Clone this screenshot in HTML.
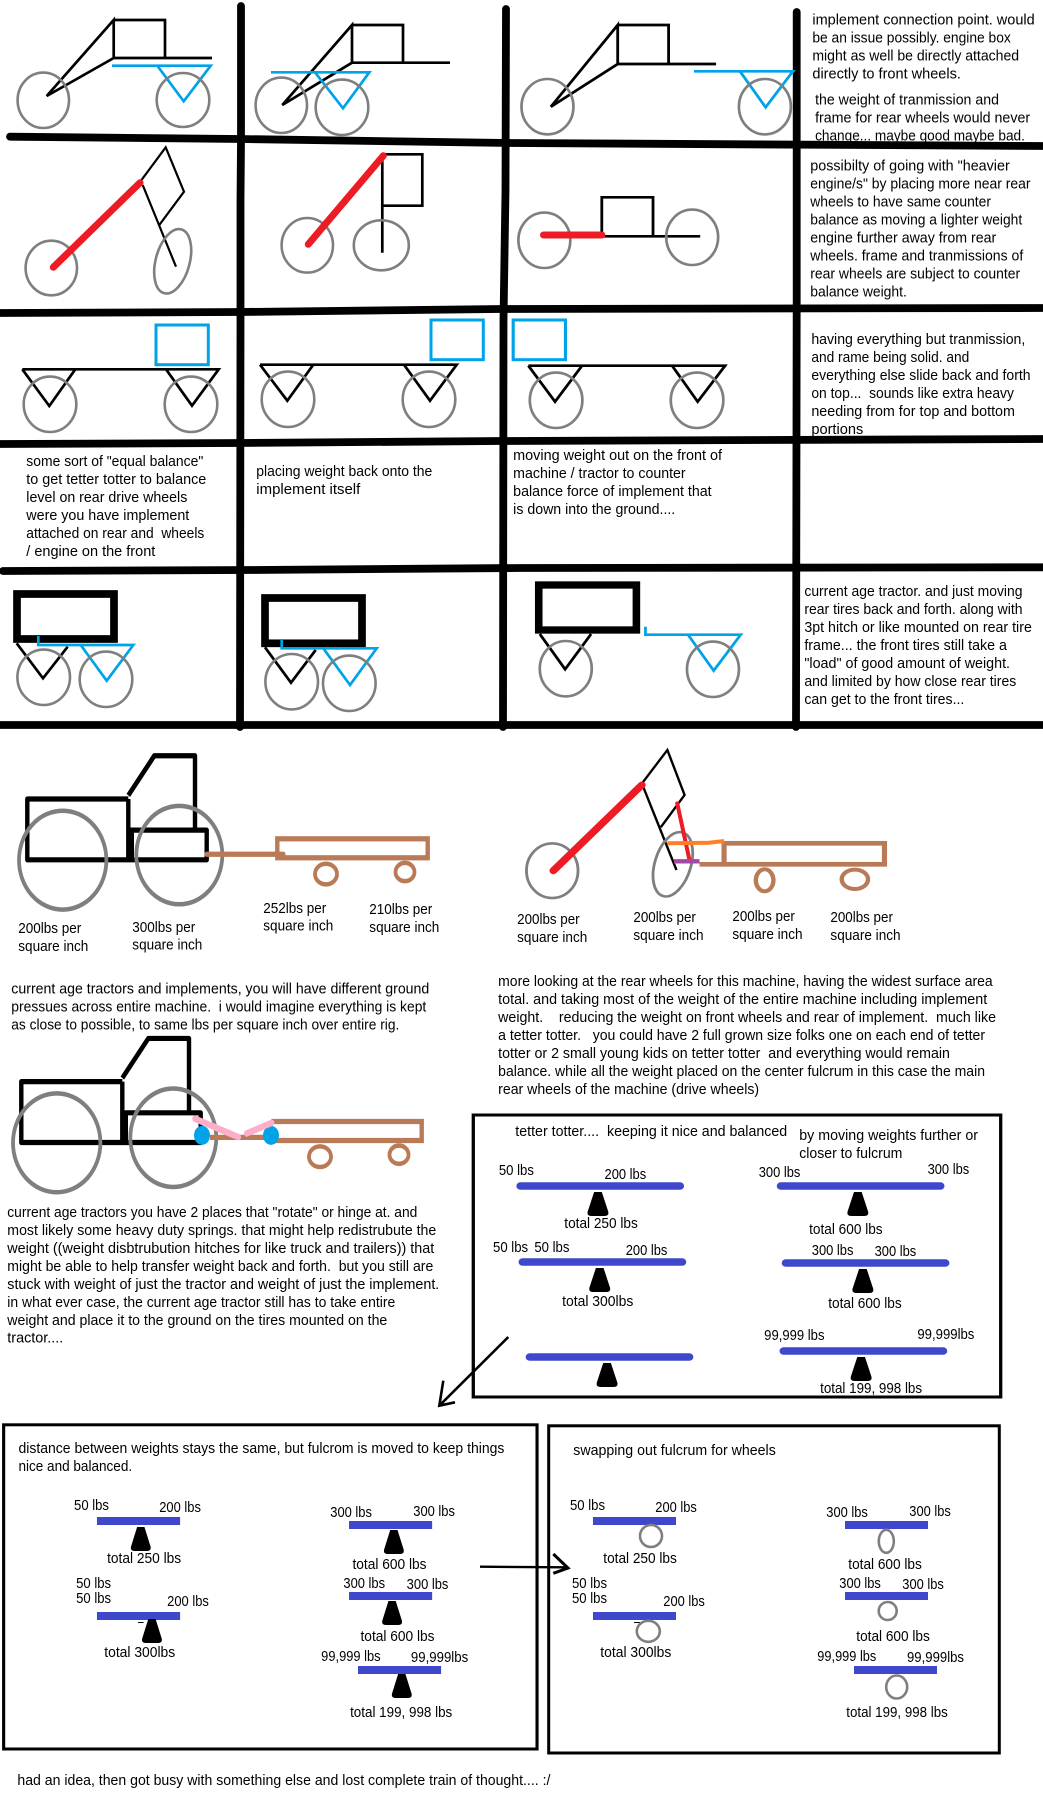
<!DOCTYPE html>
<html><head><meta charset="utf-8"><style>
html,body{margin:0;padding:0;background:#fff}
svg{display:block}
text{font-family:"Liberation Sans",sans-serif;font-size:14.5px;fill:#000;white-space:pre}
text.w{font-size:12.2px}
.lo text{font-size:15px}
.k{fill:none;stroke:#000;stroke-width:2.7}
.kt{fill:none;stroke:#000;stroke-width:2.2}
.c{fill:none;stroke:#00a2e8;stroke-width:2.7}
.g{fill:none;stroke:#7f7f7f;stroke-width:2.6}
.gg{fill:none;stroke:#7f7f7f;stroke-width:3.8}
.gl{fill:none;stroke:#000;stroke-width:7.8;stroke-linecap:round;stroke-linejoin:round}
.r{fill:none;stroke:#ed1c24;stroke-width:7;stroke-linecap:round}
.br{fill:none;stroke:#b97a57;stroke-width:4.4}
.t{fill:none;stroke:#000;stroke-width:4.4;stroke-linejoin:round}
.bb{fill:none;stroke:#000;stroke-width:3}
.bar{stroke:#3f48cc;stroke-width:7.5;stroke-linecap:round}
.bf{fill:#3f48cc}
</style></head><body>
<svg width="1043" height="1799" viewBox="0 0 1043 1799" xmlns="http://www.w3.org/2000/svg">
<defs><path id="f" d="M-3.5 0H3.5L9.5 20Q10 24 6 24H-6Q-10 24 -9.5 20Z" fill="#000"/></defs>
<rect width="1043" height="1799" fill="#fff"/>

<!-- panel texts first so grid lines clip them -->
<g transform="translate(500 0) scale(1.0388 1) translate(-500 0)">
<text x="800.7" y="24.7" textLength="214" lengthAdjust="spacingAndGlyphs">implement connection point. would</text>
<text x="800.7" y="42.7" textLength="191" lengthAdjust="spacingAndGlyphs">be an issue possibly. engine box</text>
<text x="800.7" y="60.7" textLength="199" lengthAdjust="spacingAndGlyphs">might as well be directly attached</text>
<text x="800.7" y="78.7" textLength="143" lengthAdjust="spacingAndGlyphs">directly to front wheels.</text>
<text x="803.3" y="104.7" textLength="177" lengthAdjust="spacingAndGlyphs">the weight of tranmission and</text>
<text x="803.3" y="122.7" textLength="207" lengthAdjust="spacingAndGlyphs">frame for rear wheels would never</text>
<text x="803.3" y="140.7" textLength="202" lengthAdjust="spacingAndGlyphs">change... maybe good maybe bad.</text>

<text x="798.7" y="170.7" textLength="192" lengthAdjust="spacingAndGlyphs">possibilty of going with "heavier</text>
<text x="798.7" y="188.7" textLength="212" lengthAdjust="spacingAndGlyphs">engine/s" by placing more near rear</text>
<text x="798.7" y="206.7" textLength="174" lengthAdjust="spacingAndGlyphs">wheels to have same counter</text>
<text x="798.7" y="224.7" textLength="204" lengthAdjust="spacingAndGlyphs">balance as moving a lighter weight</text>
<text x="798.7" y="242.7" textLength="179" lengthAdjust="spacingAndGlyphs">engine further away from rear</text>
<text x="798.7" y="260.7" textLength="205" lengthAdjust="spacingAndGlyphs">wheels. frame and tranmissions of</text>
<text x="798.7" y="278.7" textLength="202" lengthAdjust="spacingAndGlyphs">rear wheels are subject to counter</text>
<text x="798.7" y="296.7" textLength="93" lengthAdjust="spacingAndGlyphs">balance weight.</text>

<text x="799.7" y="344" textLength="206" lengthAdjust="spacingAndGlyphs">having everything but tranmission,</text>
<text x="799.7" y="362" textLength="152" lengthAdjust="spacingAndGlyphs">and rame being solid. and</text>
<text x="799.7" y="380" textLength="211" lengthAdjust="spacingAndGlyphs">everything else slide back and forth</text>
<text x="799.7" y="398" textLength="195" lengthAdjust="spacingAndGlyphs">on top...  sounds like extra heavy</text>
<text x="799.7" y="416" textLength="196" lengthAdjust="spacingAndGlyphs">needing from for top and bottom</text>
<text x="799.7" y="434" textLength="50" lengthAdjust="spacingAndGlyphs">portions</text>

<text x="512.7" y="460" textLength="201" lengthAdjust="spacingAndGlyphs">moving weight out on the front of</text>
<text x="512.7" y="478" textLength="166" lengthAdjust="spacingAndGlyphs">machine / tractor to counter</text>
<text x="512.7" y="496" textLength="191" lengthAdjust="spacingAndGlyphs">balance force of implement that</text>
<text x="512.7" y="514" textLength="156" lengthAdjust="spacingAndGlyphs">is down into the ground....</text>

<text x="793" y="596" textLength="210" lengthAdjust="spacingAndGlyphs">current age tractor. and just moving</text>
<text x="793" y="614" textLength="210" lengthAdjust="spacingAndGlyphs">rear tires back and forth. along with</text>
<text x="793" y="632" textLength="219" lengthAdjust="spacingAndGlyphs">3pt hitch or like mounted on rear tire</text>
<text x="793" y="650" textLength="195" lengthAdjust="spacingAndGlyphs">frame... the front tires still take a</text>
<text x="793" y="668" textLength="198" lengthAdjust="spacingAndGlyphs">"load" of good amount of weight.</text>
<text x="793" y="686" textLength="204" lengthAdjust="spacingAndGlyphs">and limited by how close rear tires</text>
<text x="793" y="704" textLength="154" lengthAdjust="spacingAndGlyphs">can get to the front tires...</text>
</g>

<text x="26.3" y="466" textLength="177" lengthAdjust="spacingAndGlyphs">some sort of "equal balance"</text>
<text x="26.3" y="484" textLength="180" lengthAdjust="spacingAndGlyphs">to get tetter totter to balance</text>
<text x="26.3" y="502" textLength="161" lengthAdjust="spacingAndGlyphs">level on rear drive wheels</text>
<text x="26.3" y="520" textLength="163" lengthAdjust="spacingAndGlyphs">were you have implement</text>
<text x="26.3" y="538" textLength="178" lengthAdjust="spacingAndGlyphs">attached on rear and  wheels</text>
<text x="26.3" y="556" textLength="129" lengthAdjust="spacingAndGlyphs">/ engine on the front</text>

<text x="256.3" y="476" textLength="176" lengthAdjust="spacingAndGlyphs">placing weight back onto the</text>
<text x="256.3" y="494" textLength="104" lengthAdjust="spacingAndGlyphs">implement itself</text>

<!-- grid -->
<polyline class="gl" points="10,136.7 240,139 510,143 1043,146"/>
<polyline class="gl" style="stroke-linecap:butt" points="0,313 240,312 500,309 1043,308"/>
<polyline class="gl" style="stroke-linecap:butt" points="0,444 240,443 500,441 1043,439"/>
<polyline class="gl" points="3,571 250,570 520,568 1043,567.3"/>
<line class="gl" style="stroke-linecap:butt" x1="0" y1="725" x2="1043" y2="725"/>
<polyline class="gl" points="241,6 241,140 240.5,200 240.5,320 240,727"/>
<polyline class="gl" points="506,9 505.5,190 503.5,320 503,727"/>
<polyline class="gl" points="796.7,12 796.7,300 796,727"/>

<!-- Row 1 -->
<path class="k" d="M46.7 96 113.7 20V58ZM113.7 20H165V58M113.7 58H212"/>
<path class="c" d="M112 65.7H210.7L183.7 101.3 157.3 65.7"/>
<ellipse class="g" cx="43.3" cy="100.3" rx="25.7" ry="27.7"/>
<ellipse class="g" cx="183" cy="100" rx="26.3" ry="27"/>

<path class="k" d="M282.3 105 352 25V62.7ZM352 25H403V62.7M352 62.7H450"/>
<path class="c" d="M271 72.3H369.3L343 108.3 315 72.3"/>
<ellipse class="g" cx="281.3" cy="105.3" rx="25.7" ry="27.7"/>
<ellipse class="g" cx="342" cy="107.3" rx="26.3" ry="27.7"/>

<g transform="translate(500 0) scale(1.0388 1) translate(-500 0)">
<path class="k" d="M549 106.7 613.3 25V64ZM613.3 25H662.3V64M613.3 64H708"/>
<path class="c" d="M686.7 71.3H782L755.7 107.3 731 71.3"/>
<ellipse class="g" cx="545.7" cy="106.7" rx="25" ry="27.7"/>
<ellipse class="g" cx="755" cy="106.7" rx="25" ry="27.7"/>
</g>

<!-- Row 2 -->
<path class="kt" d="M140 182 165.7 147.3 184 191.7 159.3 225M142.7 185 176 266.7"/>
<ellipse class="g" cx="51.3" cy="268" rx="25.7" ry="27.3"/>
<ellipse class="g" cx="172.7" cy="261.3" rx="17" ry="33" transform="rotate(15 172.7 261.3)"/>
<line class="r" x1="53.3" y1="267.3" x2="140" y2="182.7"/>

<path class="k" d="M382.3 154.3H422.3V205.7H382.3M382.3 154.3V252.7"/>
<ellipse class="g" cx="307.3" cy="245.3" rx="25.7" ry="27.3"/>
<ellipse class="g" cx="381.3" cy="245.3" rx="27.5" ry="25"/>
<line class="r" x1="308.3" y1="244.3" x2="383.3" y2="155.7"/>

<g transform="translate(500 0) scale(1.0388 1) translate(-500 0)">
<path class="k" d="M598 236V197.3H647.3V236M598 236.3H692.7"/>
<ellipse class="g" cx="542.7" cy="240.3" rx="25" ry="27.7"/>
<ellipse class="g" cx="685" cy="237.3" rx="25" ry="27.7"/>
<line class="r" x1="542" y1="235" x2="598" y2="235"/>
</g>

<!-- Row 3 -->
<rect class="c" style="stroke-width:3" x="156" y="325" width="52.3" height="39.7"/>
<path class="k" d="M22.3 369.3H218.7L192 405.7 166 369.3M22.3 369.3 49.3 406 75.3 369.3"/>
<ellipse class="g" cx="50" cy="404.3" rx="26.3" ry="27.7"/>
<ellipse class="g" cx="191" cy="404.3" rx="26.3" ry="27.7"/>

<rect class="c" style="stroke-width:3" x="431" y="320" width="52.3" height="39.7"/>
<path class="k" d="M260 364.7H456.7L430 400.7 404 364.7M260 364.7 287.3 400.7 313.3 364.7"/>
<ellipse class="g" cx="288" cy="399.3" rx="26.3" ry="27.7"/>
<ellipse class="g" cx="429" cy="399.3" rx="26.3" ry="27.7"/>

<g transform="translate(500 0) scale(1.0388 1) translate(-500 0)">
<rect class="c" style="stroke-width:3" x="512.7" y="320" width="50.3" height="39.7"/>
<path class="k" d="M527.3 365.7H716.7L690.3 401.7 665.7 365.7M527.3 365.7 553 401.7 579 365.7"/>
<ellipse class="g" cx="554" cy="400.3" rx="25.3" ry="27.7"/>
<ellipse class="g" cx="689.7" cy="400.3" rx="25.3" ry="27.7"/>
</g>

<!-- Row 5 -->
<rect x="17" y="594" width="97" height="45" fill="none" stroke="#000" stroke-width="7.7"/>
<path class="k" d="M16.7 643.3 43 678.3 67.7 646.7"/>
<path class="c" d="M38.3 636V645H133.3L106.7 680.7 80.7 645"/>
<ellipse class="g" cx="43.7" cy="677.3" rx="26.3" ry="27.7"/>
<ellipse class="g" cx="106" cy="679.3" rx="26.3" ry="27.7"/>

<rect x="265" y="598" width="97" height="45.3" fill="none" stroke="#000" stroke-width="7.7"/>
<path class="k" d="M265 647.3 291 682.7 315.7 650"/>
<path class="c" d="M281.7 640V648.3H376.7L350 685 323.3 648.3"/>
<ellipse class="g" cx="291.7" cy="681.7" rx="26.3" ry="27.7"/>
<ellipse class="g" cx="349.3" cy="683.3" rx="26.3" ry="27.7"/>

<g transform="translate(500 0) scale(1.0388 1) translate(-500 0)">
<rect x="537.3" y="585" width="94" height="45" fill="none" stroke="#000" stroke-width="7.3"/>
<path class="k" d="M538.3 634 562.7 669.3 587.7 634"/>
<path class="c" d="M640 626.7V634.7H731.7L705.7 670.7 681 634.7"/>
<ellipse class="g" cx="563.3" cy="668.7" rx="25" ry="27.7"/>
<ellipse class="g" cx="705" cy="669.3" rx="25" ry="27.7"/>
</g>

<!-- Tractors: y stretched about 740 -->
<g transform="translate(0 740) scale(1 1.1862) translate(0 -740)">
<g>
<path class="t" d="M128.3 789.7H27.3V841H206.7V816H131V841M128.3 789.7V841M128.3 786.7 154.3 753.3H195V816"/>
<rect x="127" y="816" width="7" height="25" fill="#000"/>
</g>
<ellipse class="gg" cx="62.7" cy="841.3" rx="43.7" ry="41.7"/>
<ellipse class="gg" cx="179.3" cy="837" rx="43" ry="41.5"/>
<rect class="br" x="277.3" y="823.3" width="150.4" height="16"/>
<line class="br" stroke-linecap="round" x1="206.7" y1="836.3" x2="283.3" y2="836.3"/>
<ellipse class="br" style="stroke-width:3.8" cx="326" cy="853" rx="11" ry="8.7"/>
<ellipse class="br" style="stroke-width:3.8" cx="405" cy="851.3" rx="9.5" ry="7.7"/>

<text x="18.3" y="902.7" textLength="63" lengthAdjust="spacingAndGlyphs" class="w">200lbs per</text>
<text x="18.3" y="917.7" textLength="70" lengthAdjust="spacingAndGlyphs" class="w">square inch</text>
<text x="132.3" y="901.7" textLength="63" lengthAdjust="spacingAndGlyphs" class="w">300lbs per</text>
<text x="132.3" y="916.7" textLength="70" lengthAdjust="spacingAndGlyphs" class="w">square inch</text>
<text x="263.3" y="885.7" textLength="63" lengthAdjust="spacingAndGlyphs" class="w">252lbs per</text>
<text x="263.3" y="900.7" textLength="70" lengthAdjust="spacingAndGlyphs" class="w">square inch</text>
<text x="369.3" y="886.7" textLength="63" lengthAdjust="spacingAndGlyphs" class="w">210lbs per</text>
<text x="369.3" y="901.7" textLength="70" lengthAdjust="spacingAndGlyphs" class="w">square inch</text>

<text x="11.3" y="953.7" textLength="418" lengthAdjust="spacingAndGlyphs" class="w">current age tractors and implements, you will have different ground</text>
<text x="11.3" y="968.7" textLength="415" lengthAdjust="spacingAndGlyphs" class="w">pressues across entire machine.  i would imagine everything is kept</text>
<text x="11.3" y="984" textLength="388" lengthAdjust="spacingAndGlyphs" class="w">as close to possible, to same lbs per square inch over entire rig.</text>

<g transform="translate(-6 238.3)">
<path class="t" d="M128.3 789.7H27.3V841H206.7V816H131V841M128.3 789.7V841M128.3 786.7 154.3 753.3H195V816"/>
<rect x="127" y="816" width="7" height="25" fill="#000"/>
</g>
<ellipse class="gg" cx="56.7" cy="1079.6" rx="43.7" ry="41.7"/>
<ellipse class="gg" cx="173.3" cy="1075.3" rx="43" ry="41.5"/>
<path class="br" d="M210 1075H277M271.3 1061.6H421.7V1077.6H271.3"/>
<ellipse class="br" style="stroke-width:3.8" cx="320" cy="1091.3" rx="11" ry="8.7"/>
<ellipse class="br" style="stroke-width:3.8" cx="399" cy="1089.6" rx="9.5" ry="7.7"/>
<ellipse cx="202" cy="1073.3" rx="8" ry="8" fill="#00a2e8"/>
<ellipse cx="271" cy="1073.3" rx="8" ry="8" fill="#00a2e8"/>
<line x1="195" y1="1059.3" x2="238.3" y2="1074.7" stroke="#ffaec9" stroke-width="5.5" stroke-linecap="round"/>
<line x1="246.7" y1="1071.7" x2="271.7" y2="1062.7" stroke="#ffaec9" stroke-width="5.5" stroke-linecap="round"/>

<text x="7.3" y="1142.3" textLength="410" lengthAdjust="spacingAndGlyphs" class="w">current age tractors you have 2 places that "rotate" or hinge at. and</text>
<text x="7.3" y="1157.5" textLength="429" lengthAdjust="spacingAndGlyphs" class="w">most likely some heavy duty springs. that might help redistrubute the</text>
<text x="7.3" y="1172.6" textLength="427" lengthAdjust="spacingAndGlyphs" class="w">weight ((weight disbtrubution hitches for like truck and trailers)) that</text>
<text x="7.3" y="1187.8" textLength="426" lengthAdjust="spacingAndGlyphs" class="w">might be able to help transfer weight back and forth.  but you still are</text>
<text x="7.3" y="1203" textLength="432" lengthAdjust="spacingAndGlyphs" class="w">stuck with weight of just the tractor and weight of just the implement.</text>
<text x="7.3" y="1218" textLength="388" lengthAdjust="spacingAndGlyphs" class="w">in what ever case, the current age tractor still has to take entire</text>
<text x="7.3" y="1233" textLength="380" lengthAdjust="spacingAndGlyphs" class="w">weight and place it to the ground on the tires mounted on the</text>
<text x="7.3" y="1248" textLength="56" lengthAdjust="spacingAndGlyphs" class="w">tractor....</text>
</g>

<!-- Machine + tetter box: x stretched about 470 -->
<g transform="translate(470 0) scale(1.0965 1) translate(-470 0)">
<path class="kt" d="M627.3 782.7 650 750 665.7 795 644 827.3M627.3 785 658.3 870"/>
<ellipse class="g" cx="545" cy="870.7" rx="23.5" ry="27.3"/>
<ellipse class="g" cx="655" cy="864.3" rx="16.5" ry="33" transform="rotate(15 655 864.3)"/>
<line class="r" x1="546" y1="870.7" x2="626.7" y2="785"/>
<rect class="br" style="stroke-width:4.7" x="701.7" y="843.3" width="146.3" height="21"/>
<line class="br" style="stroke-width:4.7" x1="679.3" y1="864.3" x2="701.7" y2="864.3"/>
<line x1="659" y1="803.3" x2="670" y2="859.3" stroke="#ed1c24" stroke-width="3.7" stroke-linecap="round"/>
<polyline points="650,843.3 688,842.7 701.7,841" fill="none" stroke="#ff7f27" stroke-width="4"/>
<line x1="656" y1="861.3" x2="679.3" y2="861.3" stroke="#a349a4" stroke-width="4.3"/>
<ellipse class="br" style="stroke-width:4" cx="738.7" cy="880.3" rx="8" ry="11"/>
<ellipse class="br" style="stroke-width:4" cx="821" cy="879.3" rx="12" ry="9.7"/>

<text x="513" y="924" textLength="57" lengthAdjust="spacingAndGlyphs">200lbs per</text>
<text x="513" y="942" textLength="64" lengthAdjust="spacingAndGlyphs">square inch</text>
<text x="619" y="922" textLength="57" lengthAdjust="spacingAndGlyphs">200lbs per</text>
<text x="619" y="940" textLength="64" lengthAdjust="spacingAndGlyphs">square inch</text>
<text x="709.3" y="921" textLength="57" lengthAdjust="spacingAndGlyphs">200lbs per</text>
<text x="709.3" y="939" textLength="64" lengthAdjust="spacingAndGlyphs">square inch</text>
<text x="798.7" y="922" textLength="57" lengthAdjust="spacingAndGlyphs">200lbs per</text>
<text x="798.7" y="940" textLength="64" lengthAdjust="spacingAndGlyphs">square inch</text>

<text x="495.7" y="986" textLength="451" lengthAdjust="spacingAndGlyphs">more looking at the rear wheels for this machine, having the widest surface area</text>
<text x="495.7" y="1004" textLength="446" lengthAdjust="spacingAndGlyphs">total. and taking most of the weight of the entire machine including implement</text>
<text x="495.7" y="1022" textLength="454" lengthAdjust="spacingAndGlyphs">weight.    reducing the weight on front wheels and rear of implement.  much like</text>
<text x="495.7" y="1040" textLength="444" lengthAdjust="spacingAndGlyphs">a tetter totter.   you could have 2 full grown size folks one on each end of tetter</text>
<text x="495.7" y="1058" textLength="412" lengthAdjust="spacingAndGlyphs">totter or 2 small young kids on tetter totter  and everything would remain</text>
<text x="495.7" y="1076" textLength="444" lengthAdjust="spacingAndGlyphs">balance. while all the weight placed on the center fulcrum in this case the main</text>
<text x="495.7" y="1094" textLength="238" lengthAdjust="spacingAndGlyphs">rear wheels of the machine (drive wheels)</text>

<rect class="bb" x="473" y="1115" width="481" height="282"/>
<text x="511.3" y="1136" textLength="248" lengthAdjust="spacingAndGlyphs">tetter totter....  keeping it nice and balanced</text>
<text x="770.3" y="1140" textLength="163" lengthAdjust="spacingAndGlyphs">by moving weights further or</text>
<text x="770.3" y="1158" textLength="94" lengthAdjust="spacingAndGlyphs">closer to fulcrum</text>
<text x="496.3" y="1175" textLength="32" lengthAdjust="spacingAndGlyphs">50 lbs</text>
<text x="592.7" y="1179" textLength="38" lengthAdjust="spacingAndGlyphs">200 lbs</text>
<text x="556" y="1228" textLength="67" lengthAdjust="spacingAndGlyphs">total 250 lbs</text>
<text x="733.3" y="1177" textLength="38" lengthAdjust="spacingAndGlyphs">300 lbs</text>
<text x="887.3" y="1174" textLength="38" lengthAdjust="spacingAndGlyphs">300 lbs</text>
<text x="779.3" y="1234" textLength="67" lengthAdjust="spacingAndGlyphs">total 600 lbs</text>
<text x="491" y="1252" textLength="32" lengthAdjust="spacingAndGlyphs">50 lbs</text>
<text x="528.7" y="1252" textLength="32" lengthAdjust="spacingAndGlyphs">50 lbs</text>
<text x="612" y="1255" textLength="38" lengthAdjust="spacingAndGlyphs">200 lbs</text>
<text x="554" y="1306" textLength="65" lengthAdjust="spacingAndGlyphs">total 300lbs</text>
<text x="781.7" y="1255" textLength="38" lengthAdjust="spacingAndGlyphs">300 lbs</text>
<text x="839" y="1256" textLength="38" lengthAdjust="spacingAndGlyphs">300 lbs</text>
<text x="796.7" y="1308" textLength="67" lengthAdjust="spacingAndGlyphs">total 600 lbs</text>
<text x="738.3" y="1340" textLength="55" lengthAdjust="spacingAndGlyphs">99,999 lbs</text>
<text x="878" y="1339" textLength="52" lengthAdjust="spacingAndGlyphs">99,999lbs</text>
<text x="789.3" y="1393" textLength="93" lengthAdjust="spacingAndGlyphs">total 199, 998 lbs</text>
<line class="bar" x1="516" y1="1186" x2="661.5" y2="1186"/>
<line class="bar" x1="518" y1="1262" x2="663.5" y2="1262"/>
<line class="bar" x1="524.5" y1="1357" x2="670" y2="1357"/>
<line class="bar" x1="753.5" y1="1186" x2="899" y2="1186"/>
<line class="bar" x1="758" y1="1263" x2="903.5" y2="1263"/>
<line class="bar" x1="756" y1="1351" x2="901.5" y2="1351"/>
<use href="#f" x="586.7" y="1192"/>
<use href="#f" x="588.3" y="1268"/>
<use href="#f" x="595" y="1363"/>
<use href="#f" x="823.7" y="1192"/>
<use href="#f" x="828.3" y="1269"/>
<use href="#f" x="826.7" y="1357"/>
</g>

<!-- Diagonal arrow -->
<path fill="none" stroke="#000" stroke-width="2.6" d="M508.3 1337 439.3 1405.7M443.3 1380.7 439.3 1405.7 455 1402.3"/>

<!-- Left lower box: x stretched -->
<g class="lo" transform="scale(1.0428 1)">
<rect class="bb" x="3.5" y="1424.8" width="511.5" height="324.2"/>
<text x="17.7" y="1453" textLength="466" lengthAdjust="spacingAndGlyphs">distance between weights stays the same, but fulcrom is moved to keep things</text>
<text x="17.7" y="1471" textLength="109" lengthAdjust="spacingAndGlyphs">nice and balanced.</text>
<text x="71" y="1510" textLength="33.5" lengthAdjust="spacingAndGlyphs">50 lbs</text>
<text x="152.7" y="1512" textLength="40" lengthAdjust="spacingAndGlyphs">200 lbs</text>
<text x="102.7" y="1563" textLength="71" lengthAdjust="spacingAndGlyphs">total 250 lbs</text>
<text x="73" y="1588" textLength="33.5" lengthAdjust="spacingAndGlyphs">50 lbs</text>
<text x="73" y="1603" textLength="33.5" lengthAdjust="spacingAndGlyphs">50 lbs</text>
<text x="160.3" y="1606" textLength="40" lengthAdjust="spacingAndGlyphs">200 lbs</text>
<text x="100" y="1657" textLength="68" lengthAdjust="spacingAndGlyphs">total 300lbs</text>
<text x="316.7" y="1517" textLength="40" lengthAdjust="spacingAndGlyphs">300 lbs</text>
<text x="396.3" y="1516" textLength="40" lengthAdjust="spacingAndGlyphs">300 lbs</text>
<text x="338" y="1569" textLength="71" lengthAdjust="spacingAndGlyphs">total 600 lbs</text>
<text x="329.3" y="1588" textLength="40" lengthAdjust="spacingAndGlyphs">300 lbs</text>
<text x="390" y="1589" textLength="40" lengthAdjust="spacingAndGlyphs">300 lbs</text>
<text x="345.7" y="1641" textLength="71" lengthAdjust="spacingAndGlyphs">total 600 lbs</text>
<text x="308" y="1661" textLength="57" lengthAdjust="spacingAndGlyphs">99,999 lbs</text>
<text x="394" y="1662" textLength="55" lengthAdjust="spacingAndGlyphs">99,999lbs</text>
<text x="335.7" y="1717" textLength="98" lengthAdjust="spacingAndGlyphs">total 199, 998 lbs</text>
<rect class="bf" x="93" y="1517" width="79.7" height="8"/>
<rect class="bf" x="93" y="1612" width="79.7" height="8"/>
<rect class="bf" x="334.7" y="1521" width="79.7" height="8"/>
<rect class="bf" x="334.7" y="1592" width="79.7" height="8"/>
<rect class="bf" x="343.3" y="1666" width="79.7" height="8"/>
<rect x="132.3" y="1622" width="5.4" height="1" fill="#000"/>
<use href="#f" x="135" y="1527"/>
<use href="#f" x="145.7" y="1619"/>
<use href="#f" x="377.7" y="1530"/>
<use href="#f" x="376" y="1601"/>
<use href="#f" x="385.3" y="1674"/>
</g>

<!-- Horizontal arrow -->
<path fill="none" stroke="#000" stroke-width="2.4" d="M480 1566.7 566 1567.3"/>
<path fill="none" stroke="#000" stroke-width="3" d="M553.3 1554 568 1568 553.3 1573.3"/>

<!-- Right lower box -->
<g class="lo">
<rect class="bb" x="548.7" y="1425.8" width="450.6" height="327.2"/>
<text x="573.3" y="1455" textLength="202.5" lengthAdjust="spacingAndGlyphs">swapping out fulcrum for wheels</text>
<text x="570" y="1510" textLength="35" lengthAdjust="spacingAndGlyphs">50 lbs</text>
<text x="655.3" y="1512" textLength="41.5" lengthAdjust="spacingAndGlyphs">200 lbs</text>
<text x="603.3" y="1563" textLength="73.5" lengthAdjust="spacingAndGlyphs">total 250 lbs</text>
<text x="572" y="1588" textLength="35" lengthAdjust="spacingAndGlyphs">50 lbs</text>
<text x="572" y="1603" textLength="35" lengthAdjust="spacingAndGlyphs">50 lbs</text>
<text x="663.3" y="1606" textLength="41.5" lengthAdjust="spacingAndGlyphs">200 lbs</text>
<text x="600.3" y="1657" textLength="71" lengthAdjust="spacingAndGlyphs">total 300lbs</text>
<text x="826.3" y="1517" textLength="41.5" lengthAdjust="spacingAndGlyphs">300 lbs</text>
<text x="909.3" y="1516" textLength="41.5" lengthAdjust="spacingAndGlyphs">300 lbs</text>
<text x="848.3" y="1569" textLength="73.5" lengthAdjust="spacingAndGlyphs">total 600 lbs</text>
<text x="839.3" y="1588" textLength="41.5" lengthAdjust="spacingAndGlyphs">300 lbs</text>
<text x="902.3" y="1589" textLength="41.5" lengthAdjust="spacingAndGlyphs">300 lbs</text>
<text x="856.3" y="1641" textLength="73.5" lengthAdjust="spacingAndGlyphs">total 600 lbs</text>
<text x="817.3" y="1661" textLength="59" lengthAdjust="spacingAndGlyphs">99,999 lbs</text>
<text x="907" y="1662" textLength="57" lengthAdjust="spacingAndGlyphs">99,999lbs</text>
<text x="846.3" y="1717" textLength="101.5" lengthAdjust="spacingAndGlyphs">total 199, 998 lbs</text>
</g>
<rect class="bf" x="593" y="1517" width="83" height="8"/>
<rect class="bf" x="593" y="1612" width="83" height="8"/>
<rect class="bf" x="845" y="1521" width="83" height="8"/>
<rect class="bf" x="845" y="1592" width="83" height="8"/>
<rect class="bf" x="854" y="1666" width="83" height="8"/>
<rect x="634" y="1622" width="6" height="1" fill="#000"/>
<ellipse class="g" cx="651" cy="1536" rx="11" ry="11"/>
<ellipse class="g" cx="648.3" cy="1631.3" rx="11.5" ry="10.5"/>
<ellipse class="g" cx="886.3" cy="1541.3" rx="7.5" ry="11.5"/>
<circle class="g" cx="887.7" cy="1611" r="9"/>
<ellipse class="g" cx="896.7" cy="1687" rx="10.5" ry="11.5"/>

<text x="17.4" y="1785" textLength="533" lengthAdjust="spacingAndGlyphs" style="font-size:15px">had an idea, then got busy with something else and lost complete train of thought.... :/</text>
</svg>
</body></html>
